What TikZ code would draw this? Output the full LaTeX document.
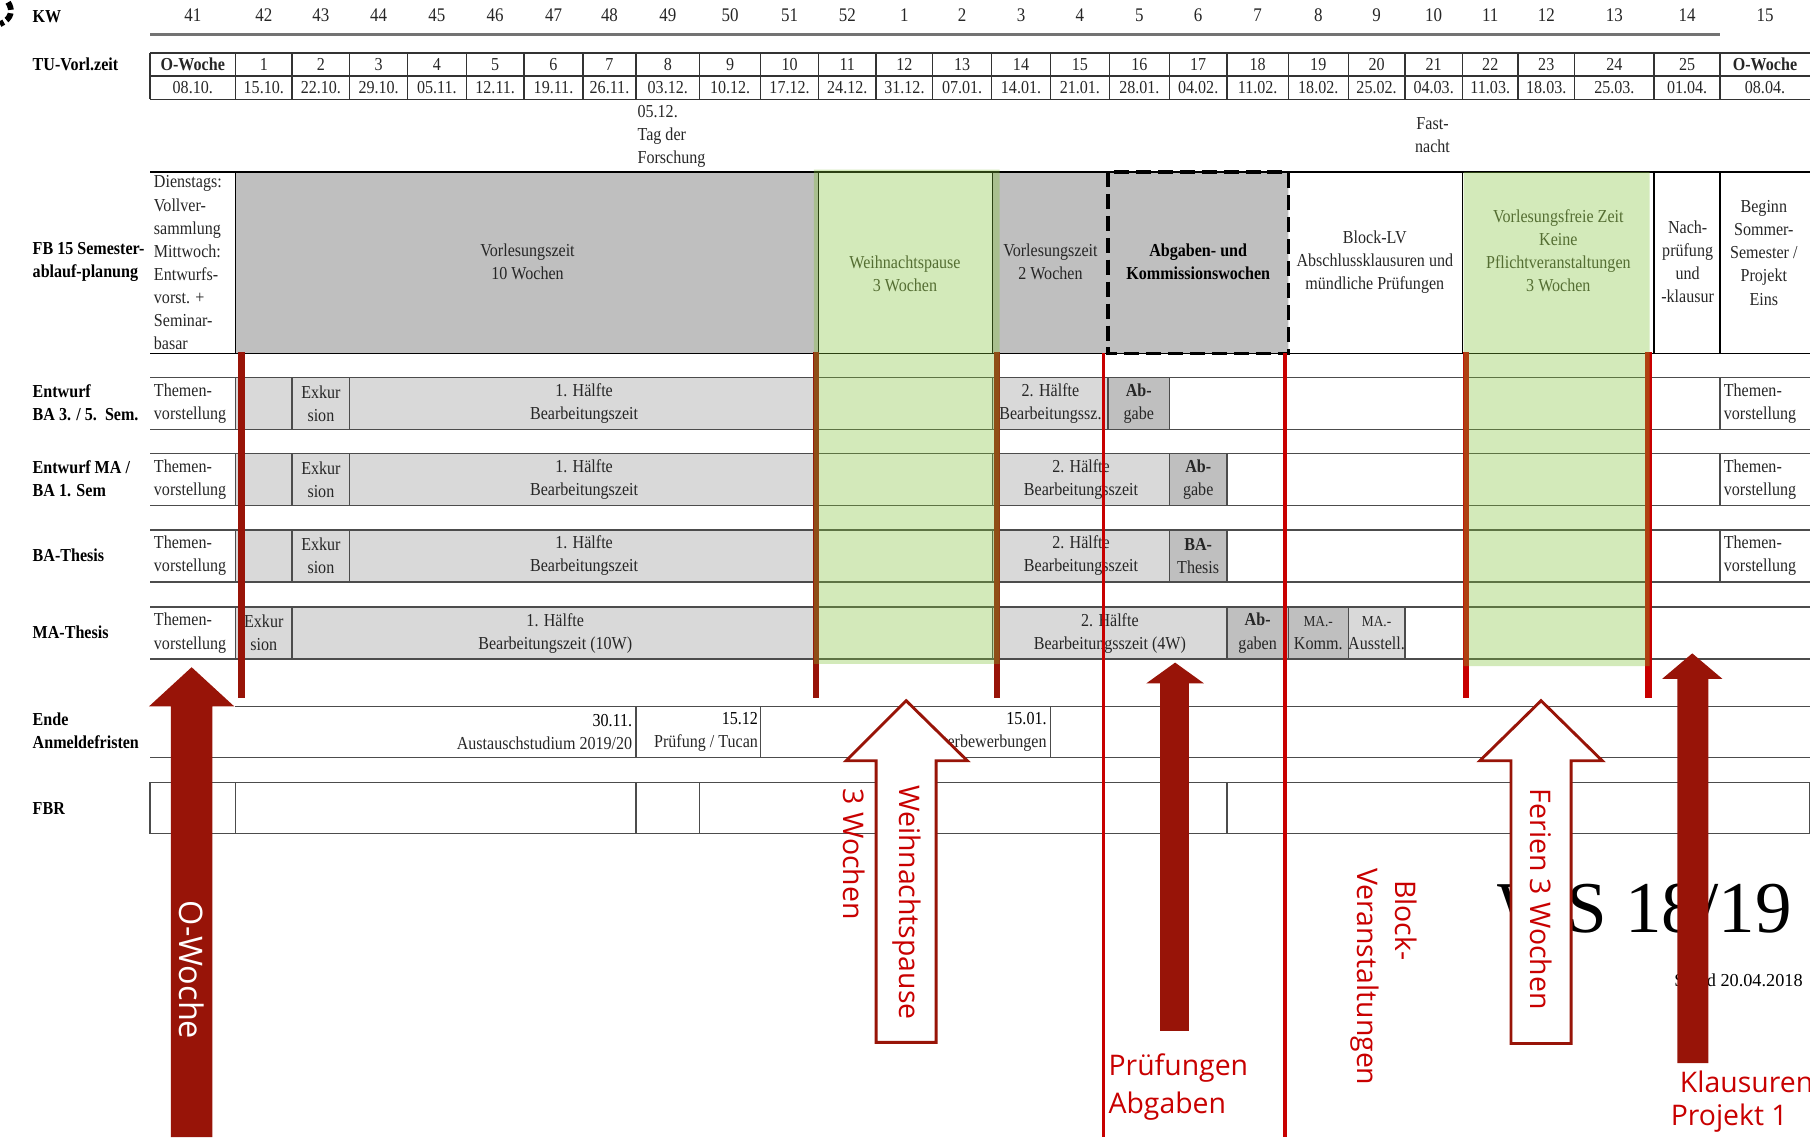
\documentclass[tikz,border=0pt]{standalone}
\usepackage{fontspec}
\setmainfont{Liberation Serif}[FakeStretch=0.88]
\newfontfamily\titelfont{Liberation Serif}
\newfontfamily\hinweisfont{Open Sans}
\usetikzlibrary{calc}

\definecolor{blockgrau}{RGB}{191,191,191}
\definecolor{zellgrau}{RGB}{217,217,217}
\definecolor{ferienfarbe}{RGB}{127,192,53}
\definecolor{ferientext}{RGB}{84,110,50}
\definecolor{dunkelrot}{RGB}{152,20,8}
\definecolor{signalrot}{RGB}{200,0,0}

\newcommand{\zelle}[6]{%
  \path[draw=black!70, line width=0.25mm, fill=#4] (#1,#3) rectangle (#2,#3+45);
  \node[align=center] (#6) at ({(#1+#2)/2},#3+22.5) {#5};}

\begin{document}
\begin{tikzpicture}[x=0.2mm, y=-0.2mm,
  every node/.style={inner sep=0pt, text=black!85, font=\fontsize{9}{11.4}\selectfont},
  zeilenkopf/.style={anchor=west, align=left, text=black, font=\fontsize{9}{11.4}\selectfont\bfseries},
  linie/.style={draw=black!70, line width=0.25mm},
  blockpfeil/.style={fill=dunkelrot},
  hohlpfeil/.style={fill=white, draw=dunkelrot, line width=0.5mm},
  hinweis/.style={text=signalrot, font=\hinweisfont\fontsize{14}{17}\selectfont},
  senkrecht/.style={hinweis, rotate=-90, anchor=west}]

\useasboundingbox (0,0) rectangle (1568,985);
\clip (0,0) rectangle (1568,985);

\draw[line width=1mm, dash pattern=on 1.4mm off 0.6mm] (7,2) .. controls (11,8) and (11,16) .. (0,21);

\node[zeilenkopf] (kw) at (28,14) {KW};
\node[zeilenkopf] (vorl) at (28,56) {TU-Vorl.zeit};
\node[zeilenkopf] (fb) at (28,227) {FB 15 Semester-\\ablauf-planung};
\node[zeilenkopf] (ba35) at (28,349) {Entwurf\\BA 3. / 5.\ \ Sem.};
\node[zeilenkopf] (ma1) at (28,415) {Entwurf MA /\\BA 1. Sem};
\node[zeilenkopf] (bath) at (28,481) {BA-Thesis};
\node[zeilenkopf] (math) at (28,548) {MA-Thesis};
\node[zeilenkopf] (frist) at (28,633) {Ende\\Anmeldefristen};
\node[zeilenkopf] (fbr) at (28,700) {FBR};

\draw[black!55, line width=0.4mm] (130,30) -- (1490,30);
\foreach \xl/\xr/\kw/\tu/\dt in {130/204/41/\textbf{O-Woche}/08.10., 204/253/42/1/15.10.,
  253/303/43/2/22.10., 303/353/44/3/29.10., 353/404/45/4/05.11., 404/454/46/5/12.11.,
  454/505/47/6/19.11., 505/551/48/7/26.11., 551/606/49/8/03.12., 606/659/50/9/10.12.,
  659/709/51/10/17.12., 709/759/52/11/24.12., 759/808/1/12/31.12., 808/859/2/13/07.01.,
  859/910/3/14/14.01., 910/961/4/15/21.01., 961/1013/5/16/28.01., 1013/1063/6/17/04.02.,
  1063/1116/7/18/11.02., 1116/1168/8/19/18.02., 1168/1217/9/20/25.02., 1217/1267/10/21/04.03.,
  1267/1315/11/22/11.03., 1315/1364/12/23/18.03., 1364/1433/13/24/25.03., 1433/1490/14/25/01.04.,
  1490/1568/15/\textbf{O-Woche}/08.04.}{
  \node[font=\fontsize{9.5}{11}\selectfont] (kw\kw) at ({(\xl+\xr)/2},13) {\kw};
  \node (tu\xl) at ({(\xl+\xr)/2},56) {\tu};
  \node (dt\xl) at ({(\xl+\xr)/2},76) {\dt};
  \draw[black!80, line width=0.25mm] (\xl,46) -- (\xl,86);
}
\draw[black!80, line width=0.25mm] (130,46) -- (1568,46) (130,66) -- (1568,66) (130,86) -- (1568,86);
\node[anchor=north west, align=left] (tag) at (552,91) {05.12.\\Tag der\\Forschung};
\node[align=center] (fastnacht) at (1241,117) {Fast-\\nacht};

\path[fill=blockgrau] (204,149) rectangle (709,306) (860,149) rectangle (1116,306);
\node[anchor=north west, align=left] (vv) at (133,152) {Dienstags:\\Vollver-\\sammlung\\Mittwoch:\\Entwurfs-\\vorst. +\\Seminar-\\basar};
\node[align=center] (vl10) at (457,227) {Vorlesungszeit\\10 Wochen};
\node[align=center] (vl2) at (910,227) {Vorlesungszeit\\2 Wochen};
\node[align=center, text=black, font=\fontsize{9}{11.4}\selectfont\bfseries] (abg) at (1038,227) {Abgaben- und\\Kommissionswochen};
\node[align=center] (block) at (1191,227) {Block-LV\\Abschlussklausuren und\\mündliche Prüfungen};
\node[align=center] (nach) at (1462,227) {Nach-\\prüfung\\und\\-klausur};
\node[align=center] (beginn) at (1528,219) {Beginn\\Sommer-\\Semester /\\Projekt\\Eins};
\draw[linie, draw=black] (130,149) -- (1568,149) (130,306) -- (1568,306);
\draw[linie, draw=black] (204,149) -- (204,306) (709,149) -- (709,306) (860,149) -- (860,306)
  (1267,149) -- (1267,306) (1433,149) -- (1433,306) (1490,149) -- (1490,306);
\draw[line width=0.6mm, dash pattern=on 2.6mm off 1.2mm] (960,149) rectangle (1116,306);

\foreach \y in {327,393,459,526}{
  \draw[linie] (130,\y) -- (1568,\y) (130,\y+45) -- (1568,\y+45);
  \node[anchor=west, align=left] (thema\y) at (133,\y+22.5) {Themen-\\vorstellung};
}
\foreach \y in {327,393,459}{
  \draw[linie] (1490,\y) -- (1490,\y+45);
  \node[anchor=west, align=left] (themb\y) at (1493,\y+22.5) {Themen-\\vorstellung};
}
\zelle{204}{253}{327}{zellgrau}{}{r1a}
\zelle{253}{303}{327}{zellgrau}{Exkur\\sion}{r1b}
\zelle{303}{709}{327}{zellgrau}{1. Hälfte\\Bearbeitungszeit}{r1c}
\zelle{709}{860}{327}{white}{}{r1d}
\zelle{860}{960}{327}{zellgrau}{2. Hälfte\\Bearbeitungssz.}{r1e}
\zelle{960}{1013}{327}{blockgrau}{\bfseries Ab-\\gabe}{r1f}
\zelle{204}{253}{393}{zellgrau}{}{r2a}
\zelle{253}{303}{393}{zellgrau}{Exkur\\sion}{r2b}
\zelle{303}{709}{393}{zellgrau}{1. Hälfte\\Bearbeitungszeit}{r2c}
\zelle{709}{860}{393}{white}{}{r2d}
\zelle{860}{1013}{393}{zellgrau}{2. Hälfte\\Bearbeitungsszeit}{r2e}
\zelle{1013}{1063}{393}{blockgrau}{\bfseries Ab-\\gabe}{r2f}
\zelle{204}{253}{459}{zellgrau}{}{r3a}
\zelle{253}{303}{459}{zellgrau}{Exkur\\sion}{r3b}
\zelle{303}{709}{459}{zellgrau}{1. Hälfte\\Bearbeitungszeit}{r3c}
\zelle{709}{860}{459}{white}{}{r3d}
\zelle{860}{1013}{459}{zellgrau}{2. Hälfte\\Bearbeitungsszeit}{r3e}
\zelle{1013}{1063}{459}{blockgrau}{\bfseries BA-\\Thesis}{r3f}
\zelle{204}{253}{526}{zellgrau}{Exkur\\sion}{r4a}
\zelle{253}{709}{526}{zellgrau}{1. Hälfte\\Bearbeitungszeit (10W)}{r4b}
\zelle{709}{860}{526}{white}{}{r4c}
\zelle{860}{1063}{526}{zellgrau}{2. Hälfte\\Bearbeitungsszeit (4W)}{r4d}
\zelle{1063}{1116}{526}{blockgrau}{\bfseries Ab-\\gaben}{r4e}
\zelle{1116}{1168}{526}{blockgrau}{\fontsize{7.5}{11.4}\selectfont MA.-\\Komm.}{r4f}
\zelle{1168}{1217}{526}{zellgrau}{\fontsize{7.5}{11.4}\selectfont MA.-\\Ausstell.}{r4g}

\draw[dunkelrot, line width=1.2mm] (209,305) -- (209,605);
\draw[dunkelrot, line width=1mm] (707,305) -- (707,605) (864,305) -- (864,605);
\draw[signalrot, line width=1.2mm] (1270,305) -- (1270,605) (1428,305) -- (1428,605);
\path[fill=ferienfarbe, fill opacity=0.34] (705,147) rectangle (866,575) (1268,149) rectangle (1429,577);
\node[align=center, text=ferientext] (weih) at (784,237) {Weihnachtspause\\3 Wochen};
\node[align=center, text=ferientext] (vfz) at (1350,217) {Vorlesungsfreie Zeit\\Keine\\Pflichtveranstaltungen\\3 Wochen};

\draw[linie] (204,612) -- (1568,612) (130,656) -- (1568,656) (551,612) -- (551,656)
  (659,612) -- (659,656) (910,612) -- (910,656);
\node[anchor=east, align=right] (aust) at (548,634) {\textcolor{black}{30.11.}\\Austauschstudium 2019/20};
\node[anchor=east, align=right] (tucan) at (657,634) {\textcolor{black}{15.12}\\Prüfung / Tucan};
\node[anchor=east, align=right] (master) at (907,634) {\textcolor{black}{15.01.}\\Frist Masterbewerbungen};
\draw[linie] (130,678) rectangle (1568,722) (204,678) -- (204,722) (551,678) -- (551,722)
  (606,678) -- (606,722) (1063,678) -- (1063,722);

\draw[signalrot, line width=0.6mm] (956,306) -- (956,985) (1113,306) -- (1113,985);

\node[anchor=base west, text=black, font=\titelfont\fontsize{36}{40}\selectfont] (ws) at (1297,808) {WS 18/19};
\node[anchor=base east, text=black, font=\titelfont\fontsize{9}{10}\selectfont] (stand) at (1562,855) {Stand 20.04.2018};

\path[blockpfeil] (148,985) -- (148,612) -- (129,612) -- (166,578) -- (203,612) -- (184,612) -- (184,985) -- cycle;
\path[blockpfeil] (1005,893) -- (1005,592) -- (993,592) -- (1018,574) -- (1043,592) -- (1030,592) -- (1030,893) -- cycle;
\path[blockpfeil] (1453,921) -- (1453,588) -- (1440,588) -- (1466,566) -- (1492,588) -- (1480,588) -- (1480,921) -- cycle;
\draw[hohlpfeil] (759,903) -- (759,659) -- (733,659) -- (785,607) -- (838,659) -- (811,659) -- (811,903) -- cycle;
\draw[hohlpfeil] (1309,904) -- (1309,659) -- (1282,659) -- (1335,607) -- (1388,659) -- (1361,659) -- (1361,904) -- cycle;

\node[senkrecht, text=white, font=\hinweisfont\fontsize{16}{19}\selectfont] (owoche) at (166,780) {O-Woche};
\node[senkrecht] (wp) at (786,680) {Weihnachtspause};
\node[senkrecht] (wp3) at (740,683) {3 Wochen};
\node[hinweis, anchor=west] (pruef) at (960,925) {Prüfungen};
\node[hinweis, anchor=west] (abgab) at (960,958) {Abgaben};
\node[senkrecht] (blockv) at (1218,762) {Block-};
\node[senkrecht] (veran) at (1182,752) {Veranstaltungen};
\node[senkrecht] (ferien) at (1335,683) {Ferien 3 Wochen};
\node[hinweis, anchor=west] (klaus) at (1455,937) {Klausuren};
\node[hinweis, anchor=west] (proj) at (1447,969) {Projekt 1};
\end{tikzpicture}
\end{document}
